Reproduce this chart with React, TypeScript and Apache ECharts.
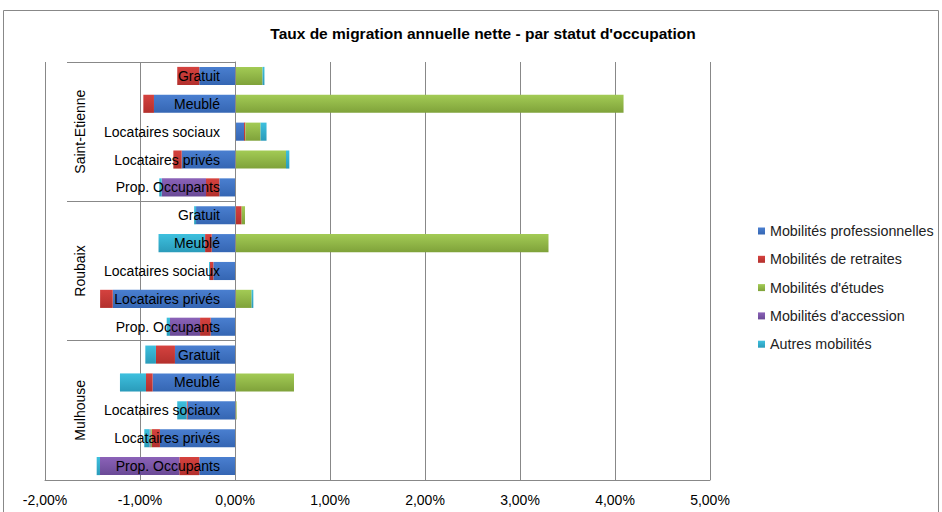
import React, { useEffect, useRef } from "react";
import * as echarts from "echarts";

const categories = [
  "Gratuit", "Meublé", "Locataires sociaux", "Locataires privés", "Prop. Occupants",
  "Gratuit", "Meublé", "Locataires sociaux", "Locataires privés", "Prop. Occupants",
  "Gratuit", "Meublé", "Locataires sociaux", "Locataires privés", "Prop. Occupants",
];
const groups = ["Saint-Etienne", "Roubaix", "Mulhouse"];
const seriesNames = [
  "Mobilités professionnelles",
  "Mobilités de retraites",
  "Mobilités d'études",
  "Mobilités d'accession",
  "Autres mobilités",
];
// values in %
const professionnelles = [-0.376, -0.853, 0.095, -0.561, -0.165, -0.41, -0.245, -0.228, -1.287, -0.256, -0.632, -0.867, -0.498, -0.79, -0.376];
const retraites = [-0.232, -0.112, 0.014, -0.088, -0.14, 0.07, -0.07, -0.035, -0.133, -0.112, -0.2, -0.07, -0.01, -0.085, -0.21];
const etudes = [0.29, 4.09, 0.16, 0.537, 0, 0.035, 3.3, 0, 0.175, 0, 0, 0.621, 0.017, -0.015, 0];
const accession = [0, 0, 0, 0, -0.467, 0, 0, 0, 0, -0.316, 0, 0, 0, -0.01, -0.835];
const autres = [0.02, 0, 0.063, 0.035, -0.025, -0.02, -0.49, -0.01, 0.018, -0.035, -0.112, -0.274, -0.1, -0.055, -0.035];
const xTicks = { min: -2, max: 5, interval: 1 };

const colors = [
  ["#4A7FD0", "#3566B3"],
  ["#D5423F", "#B3302D"],
  ["#A3CB55", "#7FA23A"],
  ["#8B62B8", "#6A4A96"],
  ["#3EC0DE", "#2A9BBA"],
];

const FONT = "'Liberation Sans', Arial, sans-serif";

export default function App() {
  const ref = useRef<HTMLDivElement>(null);
  useEffect(() => {
    if (!ref.current) return;
    const chart = echarts.init(ref.current, null, { renderer: "svg" });
    const dataSets = [professionnelles, retraites, etudes, accession, autres];
    const gridLeft = 45, gridRight = 710, gridTop = 62, gridBottomY = 480;
    const rowH = (gridBottomY - gridTop) / categories.length;
    const zeroX = gridLeft + ((0 - xTicks.min) / (xTicks.max - xTicks.min)) * (gridRight - gridLeft);
    const option: any = {
      animation: false,
      backgroundColor: "#fff",
      title: {
        text: "Taux de migration annuelle nette - par statut d'occupation",
        left: 478,
        textAlign: "center",
        top: 20,
        textStyle: { fontFamily: FONT, fontSize: 15.5, fontWeight: "bold", color: "#000" },
      },
      legend: {
        orient: "vertical",
        left: 753,
        top: 218,
        itemWidth: 7,
        itemHeight: 7,
        itemGap: 12.3,
        icon: "rect",
        data: seriesNames,
        textStyle: { fontFamily: FONT, fontSize: 14.3, color: "#222", lineHeight: 16 },
      },
      grid: {
        left: gridLeft,
        right: 942 - gridRight,
        top: gridTop,
        bottom: 512 - gridBottomY,
        containLabel: false,
        outerBoundsMode: "none",
      },
      xAxis: {
        type: "value",
        min: xTicks.min,
        max: xTicks.max,
        interval: xTicks.interval,
        axisLine: { show: true, lineStyle: { color: "#888" } },
        axisTick: { show: false },
        splitLine: { show: true, lineStyle: { color: "#888", width: 1 } },
        axisLabel: {
          margin: 13,
          fontFamily: FONT,
          fontSize: 14,
          color: "#000",
          formatter: (v: number) => v.toFixed(2).replace(".", ",") + "%",
        },
      },
      yAxis: {
        type: "category",
        inverse: true,
        data: categories,
        z: 10,
        axisLine: { show: true, onZero: true, lineStyle: { color: "#888" } },
        axisTick: {
          show: true,
          length: 168,
          interval: (index: number) => index % 5 === 0,
          lineStyle: { color: "#888" },
        },
        axisLabel: {
          interval: 0,
          margin: -(zeroX - 15 - gridLeft),
          fontFamily: FONT,
          fontSize: 14,
          color: "#000",
        },
      },
      series: seriesNames.map((name, i) => ({
        name,
        type: "bar",
        stack: "total",
        barCategoryGap: "35%",
        data: dataSets[i],
        itemStyle: {
          color: new echarts.graphic.LinearGradient(0, 0, 0, 1, [
            { offset: 0, color: colors[i][0] },
            { offset: 1, color: colors[i][1] },
          ]),
        },
      })),
      color: colors.map((c) => c[0]),
      graphic: [
        {
          type: "rect",
          shape: { x: 3.5, y: 10.5, width: 935, height: 530 },
          style: { fill: "none", stroke: "#888", lineWidth: 1 },
          silent: true,
        },
        ...groups.map((g, gi) => ({
          type: "text",
          x: 80,
          y: gridTop + rowH * (gi * 5 + 2.5),
          rotation: Math.PI / 2,
          style: {
            text: g,
            align: "center",
            verticalAlign: "middle",
            font: `14px ${FONT}`,
            fill: "#000",
          },
        })),
      ],
    };
    chart.setOption(option);
    return () => chart.dispose();
  }, []);
  return (
    <div
      ref={ref}
      style={{ position: "absolute", left: 0, top: 0, width: 942, height: 512 }}
    />
  );
}
